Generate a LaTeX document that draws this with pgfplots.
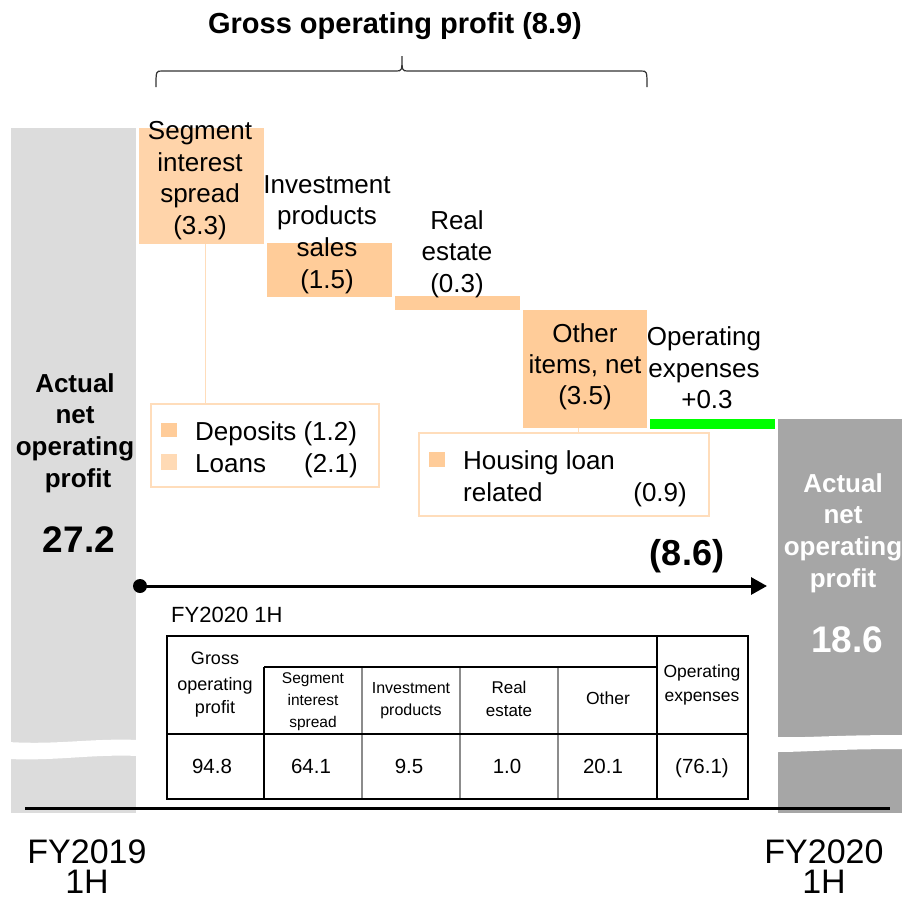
\documentclass[border=0pt]{standalone}
\usepackage{pgfplots}
\pgfplotsset{compat=1.18}
\usepackage{fontspec}
\setmainfont{Liberation Sans}
\usetikzlibrary{arrows.meta}
\definecolor{barL}{HTML}{DCDCDC}
\definecolor{barR}{HTML}{A6A6A6}
\definecolor{seg}{HTML}{FFD4AA}
\definecolor{pch}{HTML}{FFCC99}
\definecolor{pchlt}{HTML}{FFDAB5}
\definecolor{boxln}{HTML}{FFDDBB}
\definecolor{grn}{HTML}{00FF00}
\newcommand\fs[1]{\fontsize{#1}{#1}\selectfont}
\newcommand\T[4]{\node[anchor=base,inner sep=0,font=#1] at (axis cs:#2,#3) {#4};}

\begin{document}
\begin{tikzpicture}
\begin{axis}[at={(0,0)},anchor=south west,
    width=902pt, height=900pt, scale only axis,
    xmin=0, xmax=902, ymin=0, ymax=900, y dir=reverse,
    hide axis, clip=false]
  % start / end bars
  \addplot[fill=barL,draw=none] coordinates {(11,128) (136,128) (136,813) (11,813)} -- cycle;
  \addplot[fill=barR,draw=none] coordinates {(778,419) (902,419) (902,813) (778,813)} -- cycle;
  % floating bars
  \addplot[fill=seg,draw=none] coordinates {(139,128) (264,128) (264,244) (139,244)} -- cycle;
  \addplot[fill=pch,draw=none] coordinates {(267,243) (392,243) (392,297) (267,297)} -- cycle;
  \addplot[fill=pch,draw=none] coordinates {(395,296) (520,296) (520,310) (395,310)} -- cycle;
  \addplot[fill=pch,draw=none] coordinates {(523,310) (647,310) (647,428) (523,428)} -- cycle;
  \addplot[fill=grn,draw=none] coordinates {(650,419) (775,419) (775,429) (650,429)} -- cycle;

  % scale breaks
  \fill[white] (axis cs:8,742) .. controls (axis cs:60,745) and (axis cs:90,738) .. (axis cs:139,740)
     -- (axis cs:139,756) .. controls (axis cs:90,754) and (axis cs:60,761) .. (axis cs:8,759) -- cycle;
  \fill[white] (axis cs:775,737) .. controls (axis cs:810,738) and (axis cs:830,735) .. (axis cs:905,735)
     -- (axis cs:905,749) .. controls (axis cs:830,749) and (axis cs:810,752) .. (axis cs:775,752) -- cycle;

  % baseline
  \draw[black,line width=3pt] (axis cs:25,808) -- (axis cs:890,808);

  % brace + title
  \draw[black!80,line width=1.2pt] (axis cs:156,87) .. controls (axis cs:156,71) .. (axis cs:162,71) -- (axis cs:396,71)
     .. controls (axis cs:402,71) .. (axis cs:402,56) .. controls (axis cs:402,71) .. (axis cs:408,71) -- (axis cs:641,71)
     .. controls (axis cs:647,71) .. (axis cs:647,87);
  \T{\fs{29}\bfseries}{395}{33}{Gross operating profit (8.9)}

  % bar labels
  \T{\fs{26}}{200}{139}{Segment}
  \T{\fs{26}}{200}{171}{interest}
  \T{\fs{26}}{200}{202}{spread}
  \T{\fs{26}}{200}{234}{(3.3)}
  \T{\fs{26}}{327}{193}{Investment}
  \T{\fs{26}}{327}{224}{products}
  \T{\fs{26}}{327}{256}{sales}
  \T{\fs{26}}{327}{288}{(1.5)}
  \T{\fs{26}}{457}{229}{Real}
  \T{\fs{26}}{457}{260}{estate}
  \T{\fs{26}}{457}{292}{(0.3)}
  \T{\fs{26}}{585}{342}{Other}
  \T{\fs{26}}{585}{373}{items, net}
  \T{\fs{26}}{585}{404}{(3.5)}
  \T{\fs{26}}{704}{345}{Operating}
  \T{\fs{26}}{704}{377}{expenses}
  \T{\fs{26}}{707}{408}{+0.3}

  \T{\fs{26}\bfseries}{75}{392}{Actual}
  \T{\fs{26}\bfseries}{75}{423}{net}
  \T{\fs{26}\bfseries}{75}{455}{operating}
  \T{\fs{26}\bfseries}{78}{487}{profit}
  \T{\fs{37}\bfseries}{79}{552}{27.2}
  \T{\color{white}\fs{26}\bfseries}{843}{492}{Actual}
  \T{\color{white}\fs{26}\bfseries}{843}{523}{net}
  \T{\color{white}\fs{26}\bfseries}{843}{555}{operating}
  \T{\color{white}\fs{26}\bfseries}{843}{587}{profit}
  \T{\color{white}\fs{37}\bfseries}{847}{652}{18.6}

  % breakdown boxes
  \draw[boxln,line width=1pt] (axis cs:205,244) -- (axis cs:205,404);
  \draw[boxln,line width=1.5pt] (axis cs:151,404) rectangle (axis cs:379,487);
  \fill[pch] (axis cs:161,423) rectangle (axis cs:177,437);
  \fill[pchlt] (axis cs:161,454) rectangle (axis cs:177,470);
  \node[anchor=base west,inner sep=0,font=\fs{26}] at (axis cs:195,440) {Deposits (1.2)};
  \node[anchor=base west,inner sep=0,font=\fs{26}] at (axis cs:195,472) {Loans};
  \node[anchor=base west,inner sep=0,font=\fs{26}] at (axis cs:304,472) {(2.1)};

  \draw[boxln,line width=1pt] (axis cs:578,428) -- (axis cs:578,433);
  \draw[boxln,line width=1.5pt] (axis cs:419,433) rectangle (axis cs:709,516);
  \fill[pch] (axis cs:429,452) rectangle (axis cs:445,467);
  \node[anchor=base west,inner sep=0,font=\fs{26}] at (axis cs:463,469) {Housing loan};
  \node[anchor=base west,inner sep=0,font=\fs{26}] at (axis cs:463,501) {related};
  \node[anchor=base east,inner sep=0,font=\fs{26}] at (axis cs:687,501) {(0.9)};

  % total change arrow
  \draw[black,line width=3pt,-{Triangle[length=16pt,width=17pt]}] (axis cs:140,586) -- (axis cs:767,586);
  \fill[black] (axis cs:140,586) circle[radius=7pt];
  \T{\fs{36}\bfseries}{687}{565}{(8.6)}

  % table
  \node[anchor=base west,inner sep=0,font=\fs{22}] at (axis cs:171,622) {FY2020 1H};
  \draw[black!45,line width=1.5pt] (axis cs:362,667) -- (axis cs:362,799)
     (axis cs:460,667) -- (axis cs:460,799) (axis cs:558,667) -- (axis cs:558,799);
  \draw[black,line width=2.5pt] (axis cs:167,636) rectangle (axis cs:748,799);
  \draw[black,line width=2.5pt] (axis cs:657,636) -- (axis cs:657,799)
     (axis cs:264,667) -- (axis cs:264,799) (axis cs:264,667) -- (axis cs:657,667)
     (axis cs:167,734) -- (axis cs:748,734);
  \T{\fs{18}}{215}{664}{Gross}
  \T{\fs{18}}{215}{690}{operating}
  \T{\fs{18}}{215}{713}{profit}
  \T{\fs{15.5}}{313}{683}{Segment}
  \T{\fs{15.5}}{313}{705}{interest}
  \T{\fs{15.5}}{313}{727}{spread}
  \T{\fs{16}}{411}{693}{Investment}
  \T{\fs{16}}{411}{715}{products}
  \T{\fs{17}}{509}{693}{Real}
  \T{\fs{17}}{509}{716}{estate}
  \T{\fs{17.5}}{608}{704}{Other}
  \T{\fs{17.5}}{702}{677}{Operating}
  \T{\fs{17.5}}{702}{701}{expenses}
  \T{\fs{20.5}}{212}{773}{94.8}
  \T{\fs{20.5}}{311}{773}{64.1}
  \T{\fs{20.5}}{409}{773}{9.5}
  \T{\fs{20.5}}{507}{773}{1.0}
  \T{\fs{20.5}}{603}{773}{20.1}
  \T{\fs{20.5}}{702}{773}{(76.1)}

  % period labels
  \T{\fs{34}}{87}{863}{FY2019}
  \T{\fs{34}}{87}{893}{1H}
  \T{\fs{34}}{824}{863}{FY2020}
  \T{\fs{34}}{824}{893}{1H}
\end{axis}
\pgfresetboundingbox
\path (0,0) rectangle (902pt,900pt);
\end{tikzpicture}
\end{document}
